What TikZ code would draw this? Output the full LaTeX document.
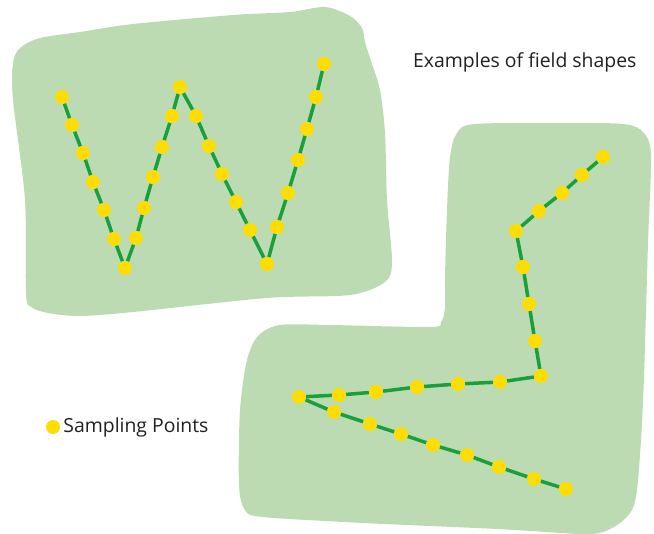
\documentclass[tikz,border=0pt]{standalone}
\usepackage{fontspec}
\setmainfont{Open Sans}
\usetikzlibrary{positioning}
\definecolor{fieldgreen}{HTML}{BDDBB2}
\definecolor{trailgreen}{HTML}{18A03C}
\definecolor{ptyellow}{HTML}{FFDD00}
\definecolor{inkgray}{HTML}{231F20}
\tikzset{
	field/.style={fill=fieldgreen,draw=none},
	trail/.style={draw=trailgreen,line width=3.5pt},
	spt/.style={circle,fill=ptyellow,inner sep=0pt,minimum size=14pt},
	lbl/.style={font=\fontsize{19.4}{22}\selectfont,text=inkgray,inner sep=0pt}
}
\begin{document}
\begin{tikzpicture}[x=1pt,y=-1pt]
	\useasboundingbox (0,0) rectangle (654,534);
	% field outlines
	\fill[field] plot[smooth cycle,tension=0.5] coordinates {(40,38) (80,32) (133,24) (233,15) (290,12) (325,7) (350,16) (362,28) (365,42) (370,58) (380,90) (385,133) (387,200) (392,262) (385,282) (350,295) (267,298) (133,312) (80,316) (48,313) (31,307) (26,293) (25,200) (13,100) (13,63) (20,48)};
	\fill[field] plot[smooth cycle,tension=0.5] coordinates {(450,157) (457,133) (475,124) (563,123) (623,124) (643,132) (651,155) (648,243) (644,377) (641,440) (637,490) (632,510) (620,523) (603,532) (580,534) (497,529) (363,523) (263,517) (245,510) (239,485) (240,410) (247,360) (258,336) (280,325) (330,325) (430,327) (441,322) (445,308) (445,277) (447,210)};
	% W-shaped track
	\foreach \p [count=\i] in {(62,97),(72,125),(83,153),(93,182),(104,210),(114,239),(125,268),(136,238),(144,208),(153,177),(162,147),(172,116),(180,87),(196,116),(209,146),(222,174),(236,202),(250,230),(267,264),(277,227),(288,193),(298,160),(307,129),(316,97),(324,64)}
		\node[spt] (w\i) at \p {};
	\foreach \i in {1,...,24}{\pgfmathtruncatemacro\j{\i+1}\draw[trail] (w\i) -- (w\j);}
	% L-field track
	\foreach \p [count=\i] in {(603,157),(582,175),(562,193),(539,211),(516,231),(523,267),(529,304),(535,341),(541,376),(500,382),(458,384),(417,387),(376,392),(339,395),(299,397),(334,412),(370,424),(401,434),(433,445),(467,455),(499,467),(534,479),(566,489)}
		\node[spt] (l\i) at \p {};
	\foreach \i in {1,...,22}{\pgfmathtruncatemacro\j{\i+1}\draw[trail] (l\i) -- (l\j);}
	% labels
	\node[lbl,anchor=west] (title) at (413,62) {Examples of field shapes};
	\node[spt] (key) at (53,427) {};
	\node[lbl,right=3pt of key] (keytext) {Sampling Points};
\end{tikzpicture}
\end{document}
